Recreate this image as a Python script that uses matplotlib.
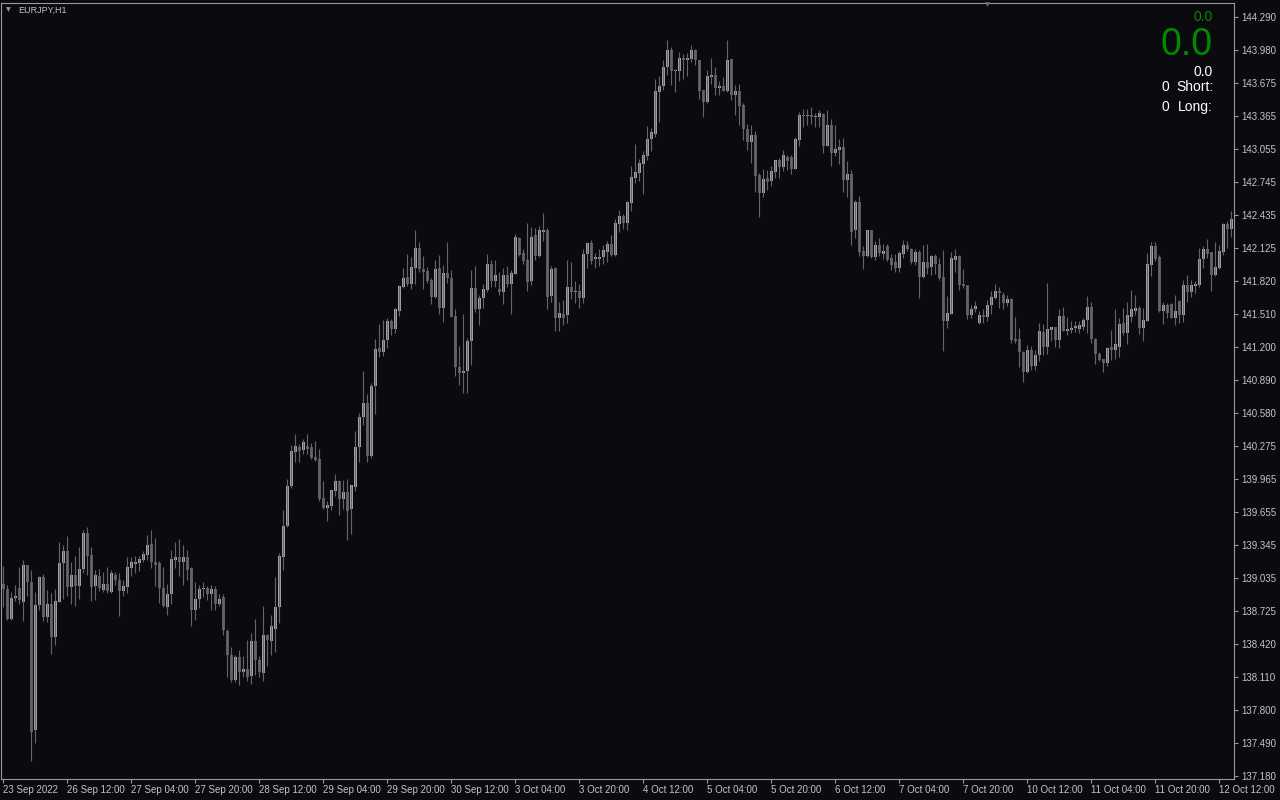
#EURJPY H1 candlestick chart, MetaTrader style
import numpy as np
import matplotlib.pyplot as plt

# OHLC, one hourly bar each, from 23 Sep 2022 20:00 on
opens = [138.98, 138.93, 138.65, 138.85, 138.94, 138.81, 139.16, 139.00, 137.61, 138.78,
         139.04, 138.67, 138.79, 138.48, 138.81, 139.17, 139.29, 138.95, 139.06, 138.96,
         139.12, 139.46, 139.25, 138.96, 139.05, 138.92, 138.98, 138.90, 139.06, 139.02,
         138.91, 138.95, 139.13, 139.165, 139.17, 139.20, 139.25, 139.35, 139.18, 139.17,
         138.94, 138.76, 138.88, 139.20, 139.23, 139.18, 139.23, 139.13, 138.73, 138.84,
         138.93, 138.94, 138.88, 138.93, 138.79, 138.86, 138.54, 138.31, 138.08, 138.29,
         138.15, 138.18, 138.12, 138.44, 138.27, 138.14, 138.50, 138.44, 138.56, 138.76,
         139.23, 139.52, 139.90, 140.21, 140.26, 140.23, 140.27, 140.26, 140.17, 140.15,
         139.78, 139.69, 139.71, 139.85, 139.94, 139.77, 139.84, 139.68, 139.89, 140.26,
         140.54, 140.67, 140.18, 140.83, 141.19, 141.15, 141.26, 141.44, 141.37, 141.54,
         141.76, 141.85, 141.79, 141.94, 142.13, 141.93, 141.91, 141.83, 141.67, 141.94,
         141.56, 141.89, 141.84, 141.49, 141.01, 140.95, 140.97, 141.25, 141.75, 141.55,
         141.66, 141.73, 141.98, 141.82, 141.74, 141.71, 141.87, 141.79, 141.88, 142.22,
         142.08, 142.01, 141.82, 142.25, 142.05, 142.28, 142.29, 141.68, 141.94, 141.47,
         141.51, 141.50, 141.76, 141.71, 141.72, 141.66, 142.07, 142.17, 142.02, 142.02,
         142.04, 142.09, 142.16, 142.06, 142.35, 142.43, 142.36, 142.55, 142.78, 142.83,
         142.91, 142.99, 143.15, 143.19, 143.59, 143.64, 143.82, 143.98, 143.78, 143.78,
         143.91, 143.89, 143.90, 143.98, 143.89, 143.61, 143.49, 143.73, 143.75, 143.62,
         143.64, 143.60, 143.90, 143.56, 143.60, 143.47, 143.24, 143.12, 143.18, 142.81,
         142.64, 142.78, 142.75, 142.84, 142.95, 142.88, 142.98, 142.98, 142.87, 143.14,
         143.37, 143.36, 143.37, 143.35, 143.35, 143.38, 143.08, 143.28, 143.02, 143.04,
         143.07, 142.76, 142.82, 142.29, 142.56, 142.10, 142.05, 142.29, 142.04, 142.15,
         142.07, 142.14, 142.03, 141.99, 141.94, 142.07, 142.15, 142.12, 141.99, 142.09,
         141.85, 141.99, 141.95, 142.05, 141.98, 141.85, 141.44, 141.51, 142.01, 142.05,
         141.79, 141.78, 141.50, 141.55, 141.42, 141.50, 141.48, 141.59, 141.66, 141.72,
         141.69, 141.61, 141.65, 141.27, 141.27, 141.15, 140.96, 141.17, 141.02, 141.12,
         141.34, 141.20, 141.36, 141.39, 141.26, 141.49, 141.35, 141.36, 141.38, 141.37,
         141.39, 141.45, 141.57, 141.27, 141.13, 141.09, 141.05, 141.20, 141.17, 141.20,
         141.42, 141.33, 141.48, 141.54, 141.56, 141.38, 141.44, 141.97, 142.14, 142.04,
         141.54, 141.59, 141.60, 141.47, 141.63, 141.50, 141.78, 141.71, 141.77, 141.78,
         142.02, 142.12, 142.09, 141.87, 141.94, 142.09, 142.35, 142.30]
highs = [139.15, 138.97, 138.90, 138.97, 139.14, 139.20, 139.16, 139.11, 138.90, 139.05,
         139.07, 138.92, 138.89, 138.93, 139.37, 139.34, 139.43, 139.18, 139.24, 139.32,
         139.48, 139.51, 139.32, 139.11, 139.12, 139.09, 139.14, 139.11, 139.09, 139.08,
         139.02, 139.23, 139.23, 139.24, 139.24, 139.29, 139.44, 139.48, 139.41, 139.19,
         139.14, 138.98, 139.30, 139.37, 139.40, 139.34, 139.30, 139.14, 139.00, 138.97,
         139.00, 138.96, 138.97, 138.96, 138.88, 138.88, 138.56, 138.39, 138.31, 138.36,
         138.30, 138.45, 138.52, 138.65, 138.30, 138.77, 138.51, 138.69, 139.04, 139.27,
         139.67, 139.96, 140.28, 140.38, 140.29, 140.34, 140.38, 140.30, 140.32, 140.24,
         139.94, 139.76, 139.86, 140.01, 139.95, 139.95, 139.96, 139.91, 140.41, 140.58,
         140.97, 140.76, 140.86, 141.27, 141.41, 141.45, 141.47, 141.46, 141.56, 141.78,
         141.94, 142.07, 142.04, 142.29, 142.18, 142.05, 141.95, 141.84, 142.01, 142.06,
         141.97, 142.18, 141.92, 141.55, 141.21, 141.51, 141.28, 141.92, 141.96, 141.69,
         141.79, 142.07, 142.01, 142.01, 141.90, 141.94, 141.96, 141.92, 142.26, 142.23,
         142.12, 142.36, 142.32, 142.31, 142.33, 142.45, 142.31, 141.96, 141.95, 141.62,
         141.64, 142.01, 141.99, 141.82, 141.79, 142.12, 142.17, 142.20, 142.08, 142.12,
         142.15, 142.19, 142.25, 142.40, 142.48, 142.44, 142.57, 142.89, 143.10, 142.96,
         143.03, 143.27, 143.25, 143.71, 143.74, 143.89, 144.07, 144.01, 143.80, 143.96,
         143.94, 143.95, 144.03, 143.99, 143.89, 143.61, 143.79, 143.91, 143.82, 143.69,
         143.73, 144.07, 143.90, 143.65, 143.66, 143.48, 143.29, 143.28, 143.22, 142.83,
         142.87, 142.86, 142.89, 142.95, 142.97, 143.04, 143.00, 143.00, 143.17, 143.40,
         143.43, 143.43, 143.45, 143.39, 143.42, 143.39, 143.42, 143.33, 143.28, 143.15,
         143.16, 142.94, 142.86, 142.58, 142.61, 142.14, 142.29, 142.29, 142.19, 142.22,
         142.16, 142.16, 142.07, 142.07, 142.10, 142.20, 142.19, 142.13, 142.12, 142.11,
         142.15, 142.16, 142.06, 142.07, 142.03, 142.11, 141.68, 142.09, 142.12, 142.06,
         141.93, 141.78, 141.59, 141.63, 141.54, 141.55, 141.64, 141.72, 141.79, 141.76,
         141.71, 141.69, 141.66, 141.48, 141.38, 141.16, 141.22, 141.21, 141.17, 141.42,
         141.41, 141.80, 141.39, 141.39, 141.55, 141.57, 141.48, 141.44, 141.44, 141.44,
         141.47, 141.68, 141.62, 141.28, 141.15, 141.09, 141.20, 141.36, 141.55, 141.47,
         141.56, 141.62, 141.73, 141.69, 141.58, 141.56, 142.08, 142.18, 142.18, 142.06,
         141.62, 141.61, 141.61, 141.69, 141.64, 141.83, 141.87, 141.83, 141.82, 142.13,
         142.14, 142.21, 142.09, 142.18, 142.15, 142.36, 142.38, 142.47]
lows = [138.76, 138.64, 138.64, 138.82, 138.79, 138.63, 138.87, 137.32, 137.49, 138.73,
        138.63, 138.62, 138.32, 138.41, 138.81, 138.84, 138.87, 138.79, 138.77, 138.84,
        139.08, 139.06, 138.82, 138.83, 138.91, 138.90, 138.89, 138.89, 138.97, 138.68,
        138.87, 138.89, 139.05, 139.08, 139.10, 139.18, 139.20, 139.13, 138.96, 138.80,
        138.76, 138.69, 138.79, 139.13, 139.05, 138.97, 139.02, 138.58, 138.64, 138.75,
        138.86, 138.83, 138.73, 138.73, 138.77, 138.50, 138.11, 138.06, 138.06, 138.03,
        138.11, 138.07, 138.04, 138.13, 138.11, 138.07, 138.21, 138.31, 138.34, 138.61,
        139.11, 139.51, 139.88, 140.12, 140.12, 140.20, 140.20, 140.15, 140.13, 139.76,
        139.68, 139.57, 139.67, 139.80, 139.62, 139.68, 139.39, 139.45, 139.85, 140.12,
        140.47, 140.12, 140.16, 140.57, 141.10, 141.11, 141.19, 141.31, 141.33, 141.49,
        141.75, 141.77, 141.74, 141.79, 141.90, 141.74, 141.80, 141.60, 141.66, 141.51,
        141.43, 141.80, 141.48, 140.93, 140.84, 140.77, 140.77, 141.03, 141.53, 141.40,
        141.56, 141.71, 141.76, 141.76, 141.69, 141.60, 141.76, 141.51, 141.88, 142.05,
        141.98, 141.72, 141.78, 142.01, 142.04, 142.19, 141.55, 141.62, 141.35, 141.35,
        141.40, 141.42, 141.65, 141.61, 141.56, 141.61, 141.94, 141.98, 141.94, 141.96,
        141.98, 141.99, 142.05, 142.05, 142.28, 142.30, 142.29, 142.47, 142.73, 142.75,
        142.63, 142.95, 143.03, 143.17, 143.31, 143.61, 143.75, 143.65, 143.59, 143.69,
        143.71, 143.74, 143.87, 143.84, 143.52, 143.35, 143.48, 143.66, 143.56, 143.56,
        143.60, 143.59, 143.51, 143.37, 143.28, 143.14, 143.04, 142.92, 142.65, 142.42,
        142.60, 142.67, 142.71, 142.78, 142.78, 142.85, 142.86, 142.82, 142.87, 143.08,
        143.26, 143.28, 143.29, 143.26, 143.26, 143.02, 143.08, 142.89, 142.99, 142.91,
        142.65, 142.60, 142.15, 142.22, 142.05, 141.93, 142.04, 142.03, 142.01, 142.05,
        142.02, 142.00, 141.92, 141.90, 141.90, 142.03, 142.10, 141.98, 141.97, 141.66,
        141.84, 141.88, 141.87, 141.88, 141.83, 141.16, 141.38, 141.51, 141.90, 141.73,
        141.75, 141.46, 141.47, 141.53, 141.41, 141.42, 141.44, 141.51, 141.65, 141.56,
        141.55, 141.58, 141.24, 141.24, 141.01, 140.87, 140.95, 140.98, 140.98, 141.07,
        141.12, 141.13, 141.25, 141.20, 141.19, 141.35, 141.31, 141.33, 141.34, 141.33,
        141.36, 141.33, 141.24, 141.04, 141.07, 140.96, 141.02, 141.08, 141.09, 141.10,
        141.31, 141.23, 141.43, 141.50, 141.32, 141.25, 141.44, 141.86, 142.00, 141.53,
        141.41, 141.47, 141.47, 141.40, 141.42, 141.43, 141.62, 141.67, 141.70, 141.76,
        141.94, 142.03, 141.72, 141.86, 141.93, 142.06, 142.13, 142.23]
closes = [138.93, 138.65, 138.85, 138.87, 138.83, 139.16, 139.00, 137.59, 138.78, 139.04,
          138.67, 138.79, 138.48, 138.82, 139.17, 139.29, 138.95, 139.06, 138.96, 139.12,
          139.46, 139.24, 138.95, 139.06, 138.94, 138.98, 138.91, 139.08, 139.02, 138.91,
          138.96, 139.14, 139.18, 139.185, 139.21, 139.26, 139.34, 139.18, 139.16, 138.94,
          138.77, 138.88, 139.21, 139.23, 139.18, 139.23, 139.11, 138.73, 138.84, 138.93,
          138.94, 138.88, 138.93, 138.79, 138.84, 138.55, 138.31, 138.08, 138.29, 138.15,
          138.18, 138.11, 138.44, 138.27, 138.15, 138.50, 138.45, 138.58, 138.76, 139.24,
          139.52, 139.90, 140.22, 140.27, 140.22, 140.31, 140.24, 140.16, 140.14, 139.77,
          139.69, 139.72, 139.86, 139.94, 139.77, 139.84, 139.66, 139.91, 140.26, 140.54,
          140.67, 140.18, 140.83, 141.18, 141.15, 141.26, 141.44, 141.37, 141.55, 141.77,
          141.84, 141.79, 141.95, 142.13, 141.93, 141.90, 141.82, 141.67, 141.93, 141.56,
          141.89, 141.84, 141.48, 141.01, 140.95, 140.97, 141.25, 141.75, 141.55, 141.66,
          141.74, 141.98, 141.82, 141.87, 141.71, 141.87, 141.79, 141.89, 142.23, 142.06,
          142.00, 141.81, 142.23, 142.05, 142.29, 142.29, 141.67, 141.93, 141.47, 141.52,
          141.47, 141.76, 141.71, 141.72, 141.66, 142.07, 142.17, 142.00, 142.04, 142.04,
          142.11, 142.16, 142.06, 142.36, 142.43, 142.36, 142.56, 142.79, 142.84, 142.92,
          143.00, 143.15, 143.21, 143.60, 143.64, 143.82, 143.98, 143.78, 143.79, 143.91,
          143.89, 143.91, 143.98, 143.89, 143.60, 143.49, 143.74, 143.75, 143.62, 143.64,
          143.60, 143.89, 143.56, 143.60, 143.46, 143.24, 143.12, 143.18, 142.80, 142.64,
          142.77, 142.74, 142.85, 142.95, 142.88, 143.00, 142.94, 142.87, 143.15, 143.37,
          143.36, 143.37, 143.35, 143.36, 143.39, 143.08, 143.28, 143.02, 143.05, 143.07,
          142.76, 142.82, 142.28, 142.56, 142.09, 142.05, 142.29, 142.04, 142.15, 142.08,
          142.10, 142.01, 141.97, 141.94, 142.08, 142.15, 142.12, 141.99, 142.09, 141.85,
          141.99, 141.94, 142.05, 141.98, 141.84, 141.44, 141.52, 142.03, 142.05, 141.78,
          141.77, 141.50, 141.55, 141.58, 141.50, 141.48, 141.59, 141.67, 141.72, 141.70,
          141.61, 141.65, 141.26, 141.25, 141.15, 140.96, 141.17, 141.02, 141.12, 141.35,
          141.20, 141.37, 141.39, 141.26, 141.49, 141.35, 141.37, 141.38, 141.39, 141.40,
          141.45, 141.57, 141.27, 141.13, 141.08, 141.05, 141.19, 141.17, 141.23, 141.41,
          141.33, 141.50, 141.55, 141.56, 141.38, 141.45, 141.98, 142.14, 142.02, 141.54,
          141.59, 141.52, 141.47, 141.54, 141.50, 141.78, 141.71, 141.78, 141.79, 142.02,
          142.12, 142.07, 141.87, 141.95, 142.10, 142.35, 142.30, 142.40]

price_ticks = [137.180, 137.490, 137.800, 138.110, 138.420, 138.725, 139.035, 139.345,
               139.655, 139.965, 140.275, 140.580, 140.890, 141.200, 141.510, 141.820,
               142.125, 142.435, 142.745, 143.055, 143.365, 143.675, 143.980, 144.290]
time_labels = ["23 Sep 2022", "26 Sep 12:00", "27 Sep 04:00", "27 Sep 20:00",
               "28 Sep 12:00", "29 Sep 04:00", "29 Sep 20:00", "30 Sep 12:00",
               "3 Oct 04:00", "3 Oct 20:00", "4 Oct 12:00", "5 Oct 04:00",
               "5 Oct 20:00", "6 Oct 12:00", "7 Oct 04:00", "7 Oct 20:00",
               "10 Oct 12:00", "11 Oct 04:00", "11 Oct 20:00", "12 Oct 12:00"]

bg = '#0b0b0f'
up_col = '#a2a2ad'
down_col = '#5b5b61'
wick_col = '#64646b'
txt_col = '#c4c4c4'
font = 'Liberation Sans'

o = np.array(opens)
h = np.array(highs)
l = np.array(lows)
c = np.array(closes)
x = np.arange(len(o))
up = c >= o

fig = plt.figure(figsize=(12.8, 8), dpi=100, facecolor=bg)
ax = fig.add_axes([1/1280, 21/800, 1233/1280, 776/800], facecolor=bg)

ax.vlines(x, l, h, color=wick_col, linewidth=0.8)
body_low = np.minimum(o, c)
body_h = np.maximum(np.abs(c - o), 0.012)
ax.bar(x[up], body_h[up], bottom=body_low[up], width=0.74, color=up_col, linewidth=0)
ax.bar(x[~up], body_h[~up], bottom=body_low[~up], width=0.74, color=down_col, linewidth=0)

ax.set_xlim(-0.575, 307.68)
ax.set_ylim(137.151, 144.421)

ax.yaxis.tick_right()
ax.set_yticks(price_ticks)
ax.set_yticklabels(['%.3f' % p for p in price_ticks])
ax.set_xticks(np.arange(0, 16 * len(time_labels), 16))
ax.set_xticklabels(time_labels)
for lab in ax.get_xticklabels():
    lab.set_horizontalalignment('left')
ax.tick_params(axis='both', colors='#9a9a9a', labelcolor=txt_col, labelsize=7,
               length=3, width=0.8, direction='out')
ax.tick_params(axis='x', pad=1)
ax.tick_params(axis='y', pad=2)
for lab in ax.get_xticklabels() + ax.get_yticklabels():
    lab.set_fontfamily(font)
for s in ax.spines.values():
    s.set_color('#9a9a9a')
    s.set_linewidth(0.8)

# header and indicator text
fig.text(8/1280, 1 - 10/800, '\u25bc', fontsize=4.5, color='#9a9a9a', ha='center', va='center')
fig.text(18/1280, 1 - 10/800, 'EURJPY,H1', fontsize=6.5, color=txt_col, ha='left', va='center', family=font)
fig.text(987/1280, 1 - 5/800, '\u25bc', fontsize=4.5, color='#707070', ha='center', va='center')

rx = 1213/1280
fig.text(rx, 1 - 17/800, '0.0', fontsize=10, color='#008a00', ha='right', va='center', family=font)
fig.text(rx, 1 - 45/800, '0.0', fontsize=27, color='#008a00', ha='right', va='center', family=font)
fig.text(rx, 1 - 72/800, '0.0', fontsize=10, color='white', ha='right', va='center', family=font)
fig.text(1161/1280, 1 - 87/800, '0', fontsize=10, color='white', ha='left', va='center', family=font)
fig.text(rx, 1 - 87/800, 'Short:', fontsize=10, color='white', ha='right', va='center', family=font)
fig.text(1161/1280, 1 - 107/800, '0', fontsize=10, color='white', ha='left', va='center', family=font)
fig.text(rx, 1 - 107/800, 'Long:', fontsize=10, color='white', ha='right', va='center', family=font)

plt.savefig('out.png', dpi=100, facecolor=bg)
